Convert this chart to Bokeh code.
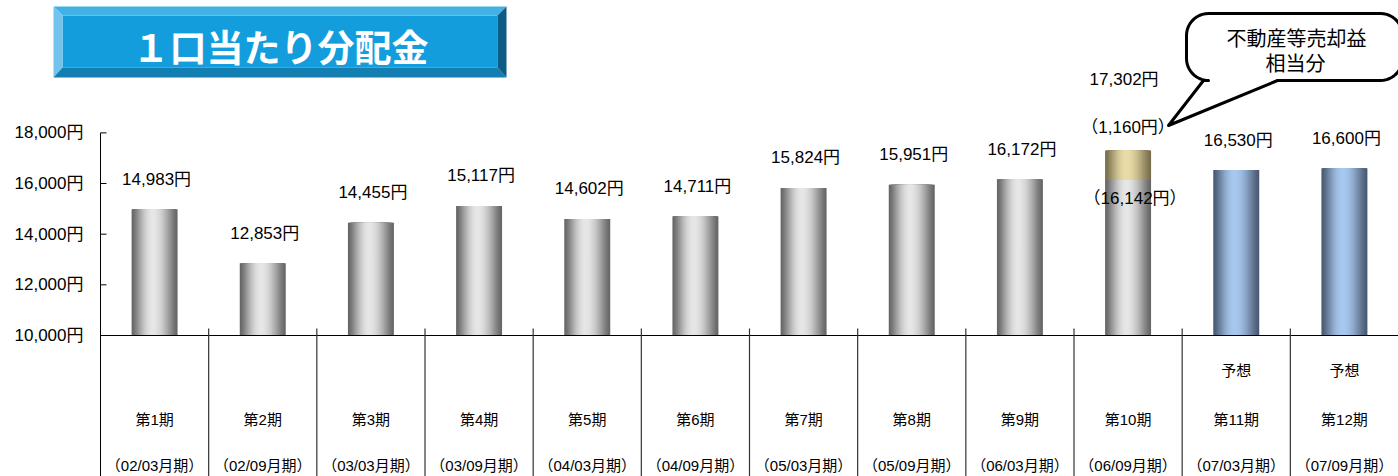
import numpy as np
from bokeh.plotting import figure
from bokeh.models import Range1d, ColumnDataSource
from bokeh.core.properties import value
from bokeh.embed import file_html
from bokeh.resources import INLINE

# ---------------- data ----------------
periods = ["第1期", "第2期", "第3期", "第4期", "第5期", "第6期",
           "第7期", "第8期", "第9期", "第10期", "第11期", "第12期"]
terms = ["（02/03月期）", "（02/09月期）", "（03/03月期）", "（03/09月期）",
         "（04/03月期）", "（04/09月期）", "（05/03月期）", "（05/09月期）",
         "（06/03月期）", "（06/09月期）", "（07/03月期）", "（07/09月期）"]
forecast_flag = ["", "", "", "", "", "", "", "", "", "", "予想", "予想"]
ordinary = [14983, 12853, 14455, 15117, 14602, 14711,
            15824, 15951, 16172, 16142, 16530, 16600]
sale_gain = [0, 0, 0, 0, 0, 0, 0, 0, 0, 1160, 0, 0]
is_forecast = [False] * 10 + [True, True]
y_ticks = [10000, 12000, 14000, 16000, 18000]
y_tick_labels = ["10,000円", "12,000円", "14,000円", "16,000円", "18,000円"]
title_text = "１口当たり分配金"
callout_lines = ["不動産等売却益", "相当分"]

# ---------------- geometry helpers (pixel -> data) ----------------
W = 1298 / 12.0
PPU = 25.33 / 1000.0


def X(px):
    return (px - 100) / W


def DX(dpx):
    return dpx / W


def Y(py):
    return 10000 + (335 - py) / PPU


NUM_FONT = "Liberation Sans, Noto Sans CJK JP"
CJK_FONT = "Noto Sans CJK JP"

p = figure(width=1398, height=476, output_backend="svg", toolbar_location=None,
           x_range=Range1d(X(0), X(1398)), y_range=Range1d(Y(476), Y(0)),
           min_border=0, min_border_left=0, min_border_right=0,
           min_border_top=0, min_border_bottom=0)
p.axis.visible = False
p.grid.visible = False
p.outline_line_color = None
p.background_fill_color = "white"
p.border_fill_color = "white"

n = len(periods)
centers = np.arange(n) + 0.5
totals = [o + g for o, g in zip(ordinary, sale_gain)]

# ---------------- gradient bars (nested bands, no seams) ----------------
K = 22
BW = 0.425
PEAK = 0.46


def draw_bars(idx, bottoms, tops, dark, light):
    xs, ws, tp, bt, cols = [], [], [], [], []
    for k in range(K):
        tl = PEAK * k / K
        tr = 1 - (1 - PEAK) * k / K
        d = 1 - (k + 0.5) / K
        f = np.cos(np.pi / 2 * d) ** 1.3
        c = "#%02x%02x%02x" % tuple(int(round(a + (b - a) * f)) for a, b in zip(dark, light))
        for j, i in enumerate(idx):
            xs.append(centers[i] + ((tl + tr) / 2 - 0.5) * BW)
            ws.append((tr - tl) * BW)
            tp.append(tops[j])
            bt.append(bottoms[j])
            cols.append(c)
    src = ColumnDataSource(dict(x=xs, w=ws, top=tp, bottom=bt, color=cols))
    p.vbar(x="x", top="top", bottom="bottom", width="w", fill_color="color",
           line_color=None, source=src)


actual_idx = [i for i in range(n) if not is_forecast[i]]
fc_idx = [i for i in range(n) if is_forecast[i]]
gain_idx = [i for i in range(n) if sale_gain[i] > 0]

draw_bars(actual_idx, [10000] * len(actual_idx), [ordinary[i] for i in actual_idx],
          (100, 100, 100), (230, 230, 230))
draw_bars(gain_idx, [ordinary[i] for i in gain_idx], [totals[i] for i in gain_idx],
          (118, 108, 74), (234, 220, 168))
draw_bars(fc_idx, [10000] * len(fc_idx), [ordinary[i] for i in fc_idx],
          (72, 88, 112), (168, 200, 238))

# ---------------- axes / category table ----------------
p.segment(x0=[0], x1=[12], y0=[10000], y1=[10000], line_color="black", line_width=1)
p.segment(x0=[0], x1=[0], y0=[Y(476)], y1=[y_ticks[-1]], line_color="black", line_width=1)
p.segment(x0=[0] * len(y_ticks), x1=[X(106)] * len(y_ticks), y0=y_ticks, y1=y_ticks,
          line_color="black", line_width=1)
bounds = list(range(1, n))
p.segment(x0=bounds, x1=bounds, y0=[Y(476)] * len(bounds), y1=[Y(328)] * len(bounds),
          line_color="#333333", line_width=1.2)

p.text(x=[X(83)] * len(y_ticks), y=y_ticks, text=y_tick_labels, text_align="right",
       text_baseline="middle", text_font=value(NUM_FONT), text_font_size="17px",
       text_color="black")

# category labels
p.text(x=centers, y=[Y(419)] * n, text=periods, text_align="center", text_baseline="middle",
       text_font=value(NUM_FONT), text_font_size="15px", text_color="black")
p.text(x=centers, y=[Y(465)] * n, text=terms, text_align="center", text_baseline="middle",
       text_font=value(NUM_FONT), text_font_size="15px", text_color="black")
p.text(x=centers, y=[Y(369)] * n, text=forecast_flag, text_align="center",
       text_baseline="middle", text_font=value(CJK_FONT), text_font_size="15px",
       text_color="black")

# ---------------- data labels ----------------
plain = [i for i in range(n) if sale_gain[i] == 0]
p.text(x=centers[plain] + DX(2), y=[totals[i] for i in plain],
       text=["{:,}円".format(totals[i]) for i in plain], y_offset=-30,
       text_align="center", text_baseline="middle", text_font=value(NUM_FONT),
       text_font_size="17px", text_color="black")
for i in gain_idx:
    p.text(x=[centers[i] - DX(4)], y=[totals[i]], text=["{:,}円".format(totals[i])],
           y_offset=-71, text_align="center", text_baseline="middle",
           text_font=value(NUM_FONT), text_font_size="17px", text_color="black")
    p.text(x=[centers[i]], y=[totals[i]], text=["（{:,}円）".format(sale_gain[i])],
           y_offset=-23, text_align="center", text_baseline="middle",
           text_font=value(NUM_FONT), text_font_size="17px", text_color="black")
    p.text(x=[centers[i] + DX(7)], y=[ordinary[i]],
           text=["（{:,}円）".format(ordinary[i])],
           y_offset=19, text_align="center", text_baseline="middle",
           text_font=value(NUM_FONT), text_font_size="17px", text_color="black")

# ---------------- title box with bevel ----------------
ox0, oy0, ox1, oy1 = 53, 6, 506, 77
ix0, iy0, ix1, iy1 = 62, 15, 497, 67
bevels = [
    ([ox0, ox1, ix1, ix0], [oy0, oy0, iy0, iy0], "#42b2e6"),   # top
    ([ox0, ix0, ix0, ox0], [oy0, iy0, iy1, oy1], "#72c4ec"),   # left
    ([ox0, ox1, ix1, ix0], [oy1, oy1, iy1, iy1], "#127eb2"),   # bottom
    ([ox1, ix1, ix1, ox1], [oy0, iy0, iy1, oy1], "#0c5c86"),   # right
]
p.quad(left=[X(ix0)], right=[X(ix1)], top=[Y(iy0)], bottom=[Y(iy1)],
       fill_color="#149ddd", line_color=None)
p.patches(xs=[[X(v) for v in b[0]] for b in bevels],
          ys=[[Y(v) for v in b[1]] for b in bevels],
          fill_color=[b[2] for b in bevels], line_color=None)
p.text(x=[X(280)], y=[Y(45)], text=[title_text], text_align="center",
       text_baseline="middle", text_font=value(CJK_FONT), text_font_size="37px",
       text_font_style="bold", text_color="white")

# ---------------- callout ----------------
cl, ct, cr, cb, rad = 1186, 13, 1402, 80, 22
pts = []


def arc(cx, cy, a0, a1):
    for a in np.linspace(a0, a1, 12):
        pts.append((cx + rad * np.cos(a), cy + rad * np.sin(a)))


arc(cl + rad, ct + rad, np.pi, 1.5 * np.pi)
arc(cr - rad, ct + rad, 1.5 * np.pi, 2 * np.pi)
arc(cr - rad, cb - rad, 0, 0.5 * np.pi)
pts.append((1277, cb))
pts.append((1168, 125))
pts.append((1203, cb))
arc(cl + rad, cb - rad, 0.5 * np.pi, np.pi)
p.patch(x=[X(a) for a, b in pts], y=[Y(b) for a, b in pts], fill_color="white",
        line_color="black", line_width=3, line_join="round")
p.text(x=[X(1296), X(1295)], y=[Y(37), Y(62)], text=callout_lines, text_align="center",
       text_baseline="middle", text_font=value(CJK_FONT), text_font_size="20px",
       text_color="black")

open("out.html", "w").write(file_html(p, INLINE))
